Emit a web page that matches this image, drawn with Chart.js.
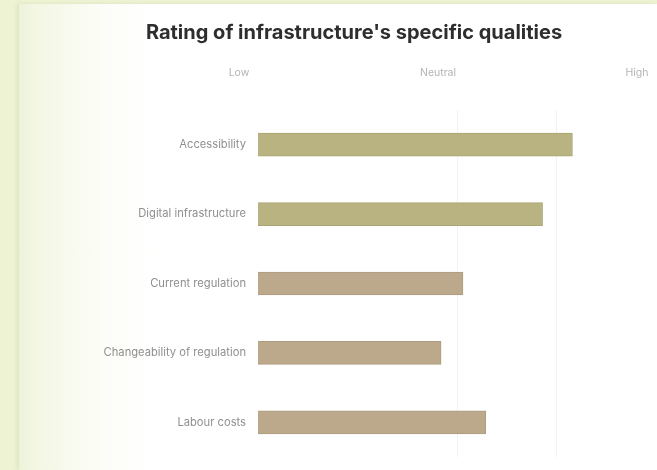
<!DOCTYPE html>
<html>
<head>
<meta charset="utf-8">
<title>Rating of infrastructure's specific qualities</title>
<script src="https://cdn.jsdelivr.net/npm/chart.js@4/dist/chart.umd.min.js"></script>
<style>
  html, body { margin: 0; padding: 0; }
  body {
    width: 657px; height: 470px; overflow: hidden; position: relative;
    background: #eef4d3;
  }
  .panel {
    position: absolute; left: 19px; top: 4px; right: 0; bottom: 0;
    background: linear-gradient(to right, #edf2da 0px, #f2f6e2 15px, #f6f9ea 40px, #fafcf3 70px, #fdfefa 100px, #ffffff 140px);
    box-shadow: -2px 0 4px rgba(120, 130, 100, 0.15);
  }
  .wrap { position: absolute; left: 0; top: 0; width: 657px; height: 470px; }
</style>
</head>
<body>
<div class="panel"></div>
<div class="wrap"><canvas id="chart" width="657" height="470"></canvas></div>
<script>
// Qualities rated on a 1 (Low) – 3 (Neutral) – 5 (High) scale
const categories = [
  'Accessibility',
  'Digital infrastructure',
  'Current regulation',
  'Changeability of regulation',
  'Labour costs'
];
const ratings = [4.16, 3.86, 3.06, 2.84, 3.29];
const scaleLabels = { 1: 'Low', 3: 'Neutral', 5: 'High' };
const barColors = ['#b8b380', '#b8b380', '#bca98b', '#bca98b', '#bca98b'];
const barBorders = ['#aba574', '#aba574', '#ad9c7f', '#ad9c7f', '#ad9c7f'];

const FONT = 'Inter, "Open Sans", sans-serif';

new Chart(document.getElementById('chart'), {
  type: 'bar',
  data: {
    labels: categories,
    datasets: [{
      data: ratings,
      backgroundColor: barColors,
      borderColor: barBorders,
      borderWidth: 1,
      borderSkipped: false,
      barThickness: 23
    }]
  },
  options: {
    indexAxis: 'y',
    responsive: false,
    animation: false,
    layout: { padding: { left: 52, right: 1, top: 5, bottom: 13 } },
    plugins: {
      legend: { display: false },
      tooltip: { enabled: false },
      title: {
        display: true,
        text: "Rating of infrastructure's specific qualities",
        color: '#2e2e2e',
        font: { family: FONT, size: 20, weight: 'bold' },
        padding: { top: 16, bottom: 19 }
      }
    },
    scales: {
      x: {
        position: 'top',
        min: 1,
        max: 5,
        border: { display: false },
        grid: {
          drawTicks: false,
          color: (ctx) => (ctx.tick && ctx.tick.value >= 3 && ctx.tick.value < 5) ? 'rgba(0,0,0,0.05)' : 'rgba(0,0,0,0)'
        },
        ticks: {
          stepSize: 1,
          padding: 31,
          labelOffset: -19,
          color: '#b4b4b4',
          font: { family: FONT, size: 10.5 },
          callback: (v) => scaleLabels[v] || ''
        },
        afterFit: (scale) => { scale.paddingLeft = 0; scale.paddingRight = 0; scale.height = 46; }
      },
      y: {
        border: { display: false },
        grid: { display: false },
        ticks: {
          padding: 4,
          color: '#8f8f8f',
          font: { family: FONT, size: 11.2 }
        },
        afterFit: (scale) => { scale.width = 206; }
      }
    }
  }
});
</script>
</body>
</html>
